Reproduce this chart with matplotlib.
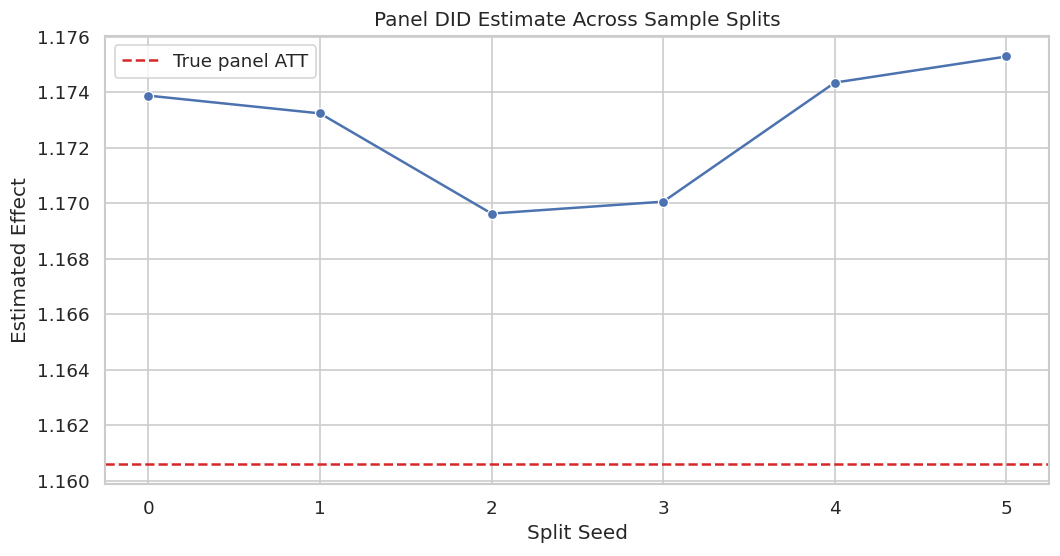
import matplotlib
matplotlib.use('Agg')
import matplotlib.pyplot as plt
import seaborn as sns

# values
split_seeds = [0, 1, 2, 3, 4, 5]
estimates = [1.17387, 1.17323, 1.16962, 1.17005, 1.17434, 1.17528]
true_att = 1.16061

sns.set_theme(style="whitegrid")

fig, ax = plt.subplots(figsize=(1060 / 120, 556 / 120), dpi=120)
sns.lineplot(x=split_seeds, y=estimates, marker='o', ax=ax)
ax.axhline(true_att, color='#d62728', linestyle='--', label='True panel ATT')
ax.set_title('Panel DID Estimate Across Sample Splits')
ax.set_xlabel('Split Seed')
ax.set_ylabel('Estimated Effect')
ax.legend(loc='upper left')
fig.subplots_adjust(left=0.0995, right=0.990, top=0.935, bottom=0.1295)
fig.savefig('out.png')
plt.close(fig)
